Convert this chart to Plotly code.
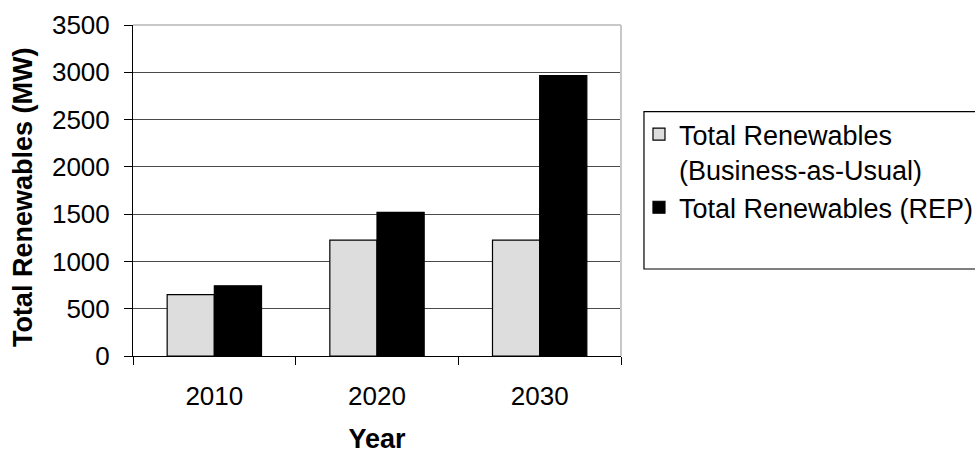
import plotly.graph_objects as go

years = ["2010", "2020", "2030"]
bau = [650, 1225, 1225]
rep = [742, 1518, 2965]
series_names = ["Total Renewables<br>(Business-as-Usual)", "Total Renewables (REP)"]
y_ticks = [0, 500, 1000, 1500, 2000, 2500, 3000, 3500]

FONT = "Arial, Liberation Sans, sans-serif"

fig = go.Figure()
fig.add_trace(go.Bar(x=years, y=bau, name=series_names[0],
                     marker=dict(color="#dddddd", line=dict(color="black", width=1.2))))
fig.add_trace(go.Bar(x=years, y=rep, name=series_names[1],
                     marker=dict(color="black", line=dict(color="black", width=1.2))))

L, R, T, B = 132.5, 621, 25, 356
W, H = 975, 454
pw, ph = R - L, B - T

fig.update_layout(
    width=W, height=H,
    margin=dict(l=L, r=W - R, t=T, b=H - B, autoexpand=False),
    paper_bgcolor="white", plot_bgcolor="white",
    barmode="group", bargap=0.42, bargroupgap=0,
    font=dict(family=FONT, size=26, color="black"),
    showlegend=True,
    legend=dict(x=(639 - L) / pw, xanchor="left", y=(B - 110) / ph, yanchor="top",
                bgcolor="rgba(0,0,0,0)", borderwidth=0, valign="top",
                font=dict(family=FONT, size=27, color="black"),
                tracegroupgap=9, itemclick=False),
    xaxis=dict(type="category", showline=True, linecolor="black", linewidth=1,
               ticks="outside", ticklen=8, tickcolor="black", tickson="boundaries",
               ticklabelstandoff=17, tickfont=dict(size=26),
               title=dict(text="<b>Year</b>", font=dict(size=27), standoff=24),
               showgrid=False, automargin=False),
    yaxis=dict(range=[0, 3500], tickvals=y_ticks, showline=True, linecolor="black", linewidth=1,
               ticks="outside", ticklen=8, tickcolor="black", tickfont=dict(size=26),
               ticklabelstandoff=9,
               showgrid=True, gridcolor="#4a4a4a", gridwidth=1, zeroline=False,
               automargin=False),
    annotations=[dict(text="<b>Total Renewables (MW)</b>", textangle=-90,
                      xref="paper", yref="paper", x=(23 - L) / pw, y=(B - 197.5) / ph,
                      xanchor="center", yanchor="middle", showarrow=False,
                      font=dict(family=FONT, size=27, color="black"))],
    shapes=[
        dict(type="line", xref="paper", yref="paper", x0=0, x1=1, y0=1, y1=1,
             line=dict(color="#c8c8c8", width=2)),
        dict(type="line", xref="paper", yref="paper", x0=1, x1=1, y0=0, y1=1,
             line=dict(color="#c8c8c8", width=2)),
        dict(type="rect", xref="paper", yref="paper", x0=(644 - L) / pw, x1=(990 - L) / pw,
             y0=(B - 269) / ph, y1=(B - 111.7) / ph, line=dict(color="black", width=1.2),
             fillcolor="rgba(0,0,0,0)"),
    ],
)

fig.write_html("out.html")
